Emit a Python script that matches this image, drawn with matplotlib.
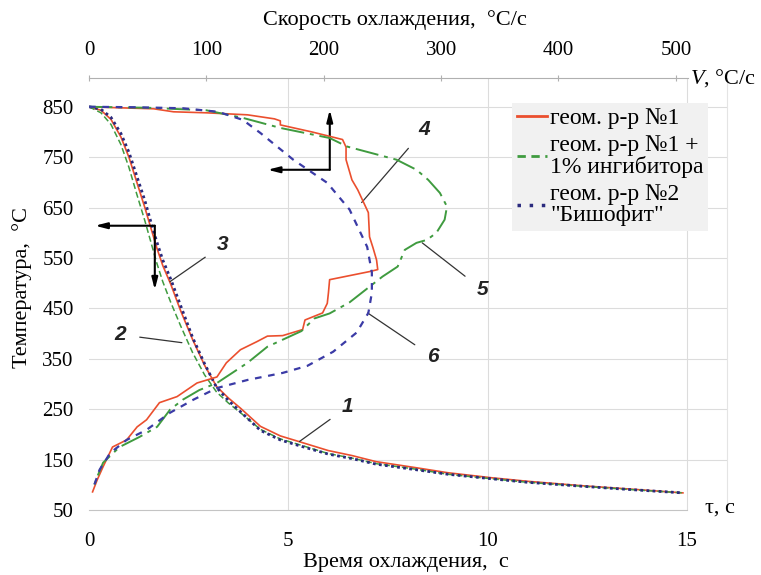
import matplotlib
matplotlib.use("Agg")
import matplotlib.pyplot as plt
from matplotlib.lines import Line2D

plt.rcParams["font.family"] = ["Liberation Serif", "DejaVu Serif"]
plt.rcParams["mathtext.fontset"] = "custom"
plt.rcParams["mathtext.rm"] = "Liberation Serif"
plt.rcParams["mathtext.it"] = "Liberation Serif:italic"

# ── cooling curves: time, s  ->  temperature, °C ──────────────────────────────
t_cool = [0, 0.3, 0.55, 0.8, 1.0, 1.2, 1.4, 1.55, 1.7, 1.85, 2.05, 2.3, 2.6, 2.9,
          3.2, 3.5, 3.8, 4.3, 4.8, 5.3, 6.0, 6.6, 7.2, 8.2, 9.0, 10.1, 11.0, 12.4,
          13.5, 14.9]
temp_sol1 = [850, 843, 825, 790, 750, 700, 650, 610, 570, 535, 498, 445, 388, 337,
             295, 272, 252, 216, 197, 185, 168, 158, 146, 134, 124, 114, 107, 98,
             92, 84]
temp_sol1_inh = [850, 838, 815, 775, 730, 676, 624, 582, 540, 503, 462, 415, 362,
                 318, 284, 262, 243, 210, 191, 179, 162, 153, 142, 131, 121, 112,
                 105, 97, 91, 84]
temp_sol2 = [850, 845, 829, 797, 760, 712, 664, 622, 582, 546, 508, 455, 392, 340,
             293, 267, 245, 208, 189, 177, 161, 152, 141, 130, 121, 112, 105, 97,
             91, 84]

# ── cooling rate curves: rate, °C/s  ->  temperature, °C ──────────────────────
rate_sol1 = [0, 25, 55, 72, 100, 135, 158, 163, 163, 190, 216, 219, 219, 224, 229,
             233, 238, 239, 242, 245, 246, 239, 205, 204, 203, 199, 184, 182, 165,
             152, 143, 129, 117, 109, 92, 75, 60, 49, 41, 32, 20, 12, 7, 3]
rate_sol1_T = [850, 848, 846, 840, 838, 834, 826, 822, 814, 800, 785, 770, 745, 705,
               685, 665, 640, 592, 570, 546, 527, 523, 507, 481, 460, 441, 427, 408,
               396, 395, 384, 368, 342, 314, 302, 275, 263, 229, 215, 189, 175, 136,
               110, 86]
rate_sol1_inh = [0, 50, 100, 131, 163, 205, 220, 262, 279, 289, 299, 305, 303, 296,
                 288, 279, 269, 263, 250, 239, 222, 205, 192, 181, 152, 135, 109, 94,
                 80, 69, 58, 43, 26, 12, 7, 3]
rate_sol1_inh_T = [850, 848, 843, 828, 808, 788, 771, 745, 725, 705, 679, 652, 626,
                   600, 586, 580, 566, 533, 513, 493, 462, 440, 430, 405, 374, 342,
                   302, 288, 269, 249, 215, 195, 175, 144, 116, 90]
rate_sol2 = [0, 40, 80, 110, 131, 146, 174, 203, 222, 237, 241, 241, 238, 228, 208,
             186, 165, 135, 109, 89, 69, 49, 32, 18, 9, 3]
rate_sol2_T = [850, 849, 847, 840, 824, 798, 745, 699, 646, 572, 521, 481, 441, 402,
               364, 336, 322, 308, 292, 269, 243, 209, 189, 163, 130, 90]

series_names = ["геом. р-р №1", "геом. р-р №1 +\n1% ингибитора",
                "геом. р-р №2\n\"Бишофит\""]
temp_ticks = list(range(50, 851, 100))
time_ticks = [0, 5, 10, 15]
rate_ticks = [0, 100, 200, 300, 400, 500]

RED = "#eb4f2e"
GREEN = "#3f9b3f"
NAVY = "#2a2a7e"
BLUE = "#3b3ba6"
GRID = "#dcdcdc"

fig = plt.figure(figsize=(7.61, 5.75), dpi=100)
ax = fig.add_axes([0.117, 0.113, 0.838, 0.7513])
ax.set_xlim(0, 16)
ax.set_ylim(50, 907)

ax.set_yticks(temp_ticks)
ax.set_xticks(time_ticks)
ax.tick_params(axis="both", length=0, labelsize=15)
ax.tick_params(axis="x", pad=16)
ax.tick_params(axis="y", pad=11)
ax.grid(True, color=GRID, lw=0.8)
ax.get_xgridlines()[0].set_visible(False)
ax.get_ygridlines()[0].set_visible(False)
for side in ("left", "top"):
    ax.spines[side].set_visible(False)
ax.spines["right"].set_color("#e4e4e4")
ax.spines["bottom"].set_color("#c4c4c4")
ax.spines["bottom"].set_bounds(0, 15)

# cooling curves (lower time axis)
ax.plot(t_cool, temp_sol1, color=RED, lw=1.2, zorder=3)
ax.plot(t_cool, temp_sol1_inh, color=GREEN, lw=1.1, dashes=(4, 2), zorder=3)
ax.plot(t_cool, temp_sol2, color=NAVY, lw=2.0, dashes=(1, 1.2), zorder=3)

# rate axis on top
ax2 = ax.twiny()
ax2.set_xlim(0, 543.4)
ax2.set_xticks(rate_ticks)
ax2.tick_params(axis="x", direction="inout", length=4, color="#b0b0b0",
                labelsize=15, pad=11)
for side in ("left", "right", "bottom"):
    ax2.spines[side].set_visible(False)
ax2.spines["top"].set_color("#b0b0b0")
ax2.spines["top"].set_bounds(0, 510)

ax2.plot(rate_sol1, rate_sol1_T, color=RED, lw=1.2, zorder=3)
ax2.plot(rate_sol1_inh, rate_sol1_inh_T, color=GREEN, lw=1.4,
         dashes=(12, 3, 2, 3), zorder=3)
ax2.plot(rate_sol2, rate_sol2_T, color=BLUE, lw=1.6, dashes=(3, 3), zorder=3)

# legend
handles = [Line2D([], [], color=RED, lw=2),
           Line2D([], [], color=GREEN, lw=2, dashes=(3, 2)),
           Line2D([], [], color=NAVY, lw=2.5, dashes=(1, 2.5))]
leg = ax2.legend(handles, series_names, loc="upper left",
                 bbox_to_anchor=(0.663, 0.942), fontsize=17, frameon=True,
                 fancybox=False, handlelength=1.3, handletextpad=0.12,
                 labelspacing=0.25, borderpad=0.2, borderaxespad=0)
leg.get_frame().set_facecolor("#f1f1f1")
leg.get_frame().set_edgecolor("none")
leg.get_frame().set_alpha(1)
for txt in leg.get_texts():
    txt.set_linespacing(1.0)

# direction arrows: cooling curves -> left/bottom axes, rate curves -> top axis
arrow = dict(arrowstyle="-|>,head_length=0.7,head_width=0.18", color="black",
             lw=1.5, shrinkA=0, shrinkB=0)
ax.annotate("", xy=(0.15, 614), xytext=(1.65, 614), arrowprops=arrow)
ax.annotate("", xy=(1.65, 487), xytext=(1.65, 614), arrowprops=arrow)
ax.annotate("", xy=(6.04, 844), xytext=(6.04, 725), arrowprops=arrow)
ax.annotate("", xy=(4.48, 725), xytext=(6.04, 725), arrowprops=arrow)

# curve numbers with leader lines
numbers = [("1", (5.28, 186), (6.49, 255)),
           ("2", (2.33, 382), (0.78, 398)),
           ("3", (2.03, 503), (3.36, 576)),
           ("4", (6.84, 660), (8.41, 804)),
           ("5", (8.36, 580), (9.87, 487)),
           ("6", (6.99, 441), (8.62, 354))]
for text, xy, xytext in numbers:
    ax.annotate(text, xy=xy, xytext=xytext, fontsize=15, fontweight="bold",
                fontstyle="italic", family="Liberation Sans", color="#222222",
                ha="center", va="center", zorder=4,
                arrowprops=dict(arrowstyle="-", color="#333333", lw=0.9,
                                shrinkA=8, shrinkB=0))

# axis titles
fig.text(395 / 761, 1 - 20 / 575, "Скорость охлаждения,  °C/с", fontsize=16,
         ha="center", va="center")
fig.text(406 / 761, 1 - 563 / 575, "Время охлаждения,  с", fontsize=16,
         ha="center", va="center")
fig.text(22 / 761, 1 - 287 / 575, "Температура,  °C", fontsize=16,
         ha="center", va="center", rotation=90)
fig.text(690 / 761, 1 - 78 / 575, r"$\it{V}$, °C/с", fontsize=16,
         ha="left", va="center")
fig.text(720 / 761, 1 - 508 / 575, "τ, с", fontsize=16, ha="center",
         va="center")

fig.savefig("out.png", dpi=100)
